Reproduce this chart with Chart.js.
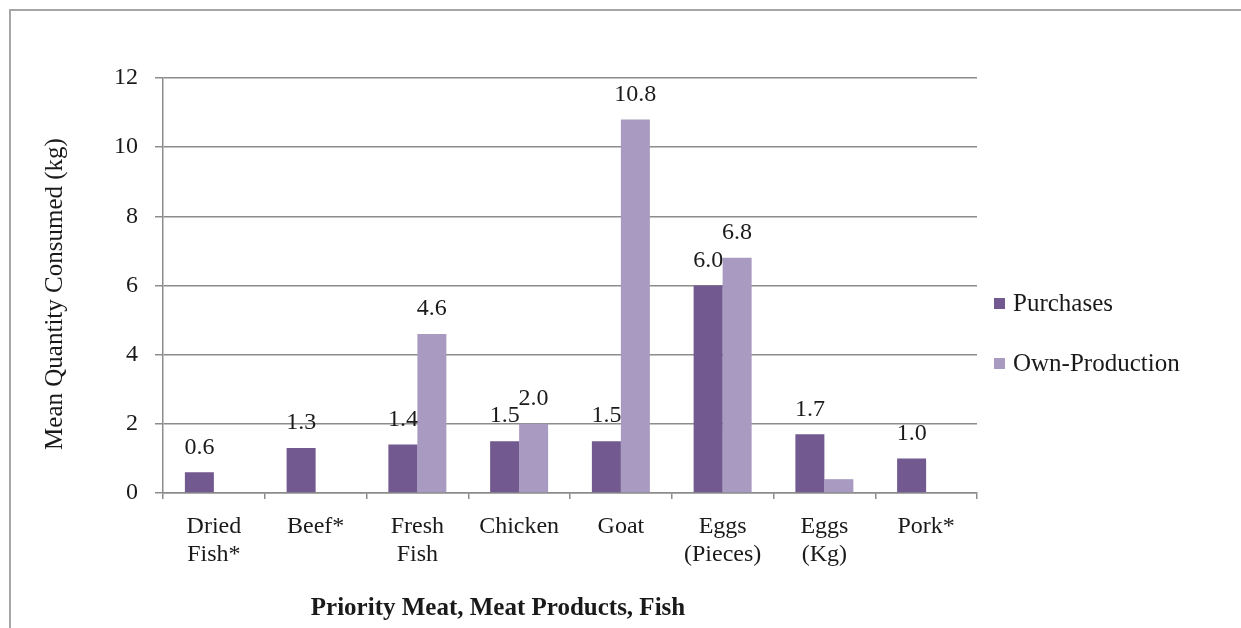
<!DOCTYPE html>
<html>
<head>
<meta charset="utf-8">
<script src="https://cdn.jsdelivr.net/npm/chart.js@4.4.1/dist/chart.umd.min.js"></script>
<style>
html,body{margin:0;padding:0;background:#fff;}
#wrap{position:relative;width:1241px;height:628px;}
</style>
</head>
<body>
<div id="wrap"><canvas id="c" width="1241" height="628"></canvas></div>
<script>
// mean quantities (kg) by item
var categories = [['Dried','Fish*'], 'Beef*', ['Fresh','Fish'], 'Chicken', 'Goat', ['Eggs','(Pieces)'], ['Eggs','(Kg)'], 'Pork*'];
var purchases = [0.6, 1.3, 1.4, 1.5, 1.5, 6.0, 1.7, 1.0];
var ownProduction = [null, null, 4.6, 2.0, 10.8, 6.8, 0.4, null];
var yTicks = [0, 2, 4, 6, 8, 10, 12];

var serif = '"Liberation Serif", "DejaVu Serif", serif';
var gridCol = '#8c8c8c';
var txtCol = '#1a1a1a';

// white page with the thin frame line
var frame = {
  id: 'frame',
  beforeDraw: function(chart){
    var c = chart.ctx;
    c.save();
    c.fillStyle = '#fff';
    c.fillRect(0, 0, chart.width, chart.height);
    c.strokeStyle = '#a6a6a6';
    c.lineWidth = 2;
    c.beginPath();
    c.moveTo(10, chart.height);
    c.lineTo(10, 10);
    c.lineTo(chart.width, 10);
    c.stroke();
    c.restore();
  }
};

// numbers above bars
var valueLabels = {
  id: 'valueLabels',
  afterDatasetsDraw: function(chart){
    var c = chart.ctx;
    c.save();
    c.font = '24px ' + serif;
    c.fillStyle = txtCol;
    c.textAlign = 'center';
    c.textBaseline = 'middle';
    chart.data.datasets.forEach(function(ds, i){
      chart.getDatasetMeta(i).data.forEach(function(bar, j){
        var v = ds.data[j];
        if (v == null || v < 0.5) return;
        c.fillText(v.toFixed(1), bar.x, bar.y - 25);
      });
    });
    c.restore();
  }
};

// legend at right and the two axis titles
var extras = {
  id: 'extras',
  afterDraw: function(chart){
    var c = chart.ctx;
    c.save();
    c.font = '25px ' + serif;
    c.textBaseline = 'middle';
    c.textAlign = 'left';
    var ly = [304, 364];
    chart.data.datasets.forEach(function(ds, i){
      c.fillStyle = ds.backgroundColor;
      c.fillRect(994, ly[i] - 6, 11, 11);
      c.fillStyle = txtCol;
      c.fillText(ds.label, 1013, ly[i]);
    });
    // y title
    c.save();
    c.font = '25px ' + serif;
    c.translate(55, 294);
    c.rotate(-Math.PI / 2);
    c.textAlign = 'center';
    c.fillText('Mean Quantity Consumed (kg)', 0, 0);
    c.restore();
    // x title
    c.font = 'bold 25px ' + serif;
    c.textAlign = 'center';
    c.fillText('Priority Meat, Meat Products, Fish', 498, 609);
    c.restore();
  }
};

var ctx = document.getElementById('c').getContext('2d');
new Chart(ctx, {
  type: 'bar',
  data: {
    labels: categories,
    datasets: [
      { label: 'Purchases', data: purchases, backgroundColor: '#72598f', barPercentage: 1, categoryPercentage: 0.57 },
      { label: 'Own-Production', data: ownProduction, backgroundColor: '#a89ac0', barPercentage: 1, categoryPercentage: 0.57 }
    ]
  },
  options: {
    responsive: false,
    animation: false,
    layout: { padding: { left: 40, top: 78, right: 264, bottom: 0 } },
    plugins: { legend: { display: false }, tooltip: { enabled: false } },
    scales: {
      x: {
        grid: { drawOnChartArea: false, drawTicks: true, tickLength: 6, color: gridCol, lineWidth: 1.5, offset: true },
        border: { color: gridCol, width: 1.5 },
        ticks: { font: { family: serif, size: 24, lineHeight: 1.17 }, color: txtCol, padding: 14, maxRotation: 0, autoSkip: false },
        afterFit: function(s){ s.height = 135; }
      },
      y: {
        min: 0, max: 12,
        afterBuildTicks: function(s){ s.ticks = yTicks.map(function(v){ return { value: v }; }); },
        grid: { color: gridCol, lineWidth: 1.5, tickLength: 8 },
        border: { color: gridCol, width: 1.5 },
        ticks: { font: { family: serif, size: 24 }, color: txtCol, padding: 17 },
        afterFit: function(s){ s.width = 123; }
      }
    }
  },
  plugins: [frame, valueLabels, extras]
});
</script>
</body>
</html>
